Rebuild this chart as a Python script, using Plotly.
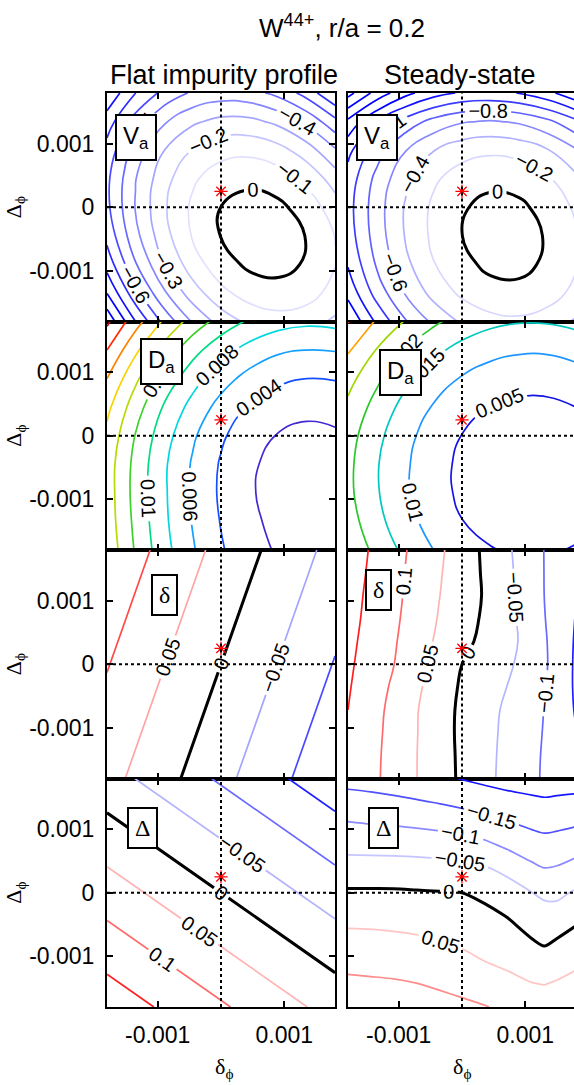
import numpy as np
import plotly.graph_objects as go

W, H = 574, 1085
FONT = "Liberation Sans"
SERIF = "Liberation Serif"

# ---------------- data ----------------
# grid nodes, in units of 1e-3
nodes9 = [-1.8, -1.35, -0.9, -0.45, 0.0, 0.45, 0.9, 1.35, 1.8]
nodes11 = [-1.8, -1.44, -1.08, -0.72, -0.36, 0.0, 0.36, 0.72, 1.08, 1.44, 1.8]
nodes_Dss_x = [-1.8, -1.44, -1.08, -0.72, -0.36, 0.0, 0.36, 0.72, 1.1, 1.3, 1.5, 1.8]
nodes3 = [-1.8, 0.0, 1.8]

# V_a, flat impurity profile (rows: Delta_phi from -1.8e-3 up; columns: delta_phi)
va_flat = [
    [-1.078, -0.800, -0.571, -0.391, -0.259, -0.176, -0.141, -0.155, -0.218],
    [-0.897, -0.632, -0.415, -0.247, -0.127, -0.056, -0.034, -0.060, -0.135],
    [-0.761, -0.508, -0.303, -0.147, -0.040, 0.019, 0.029, -0.009, -0.096],
    [-0.670, -0.429, -0.236, -0.092, 0.003, 0.050, 0.048, -0.003, -0.102],
    [-0.623, -0.394, -0.214, -0.082, 0.001, 0.036, 0.022, -0.041, -0.152],
    [-0.621, -0.404, -0.236, -0.116, -0.045, -0.023, -0.049, -0.124, -0.247],
    [-0.663, -0.458, -0.302, -0.195, -0.136, -0.126, -0.164, -0.251, -0.387],
    [-0.750, -0.557, -0.413, -0.318, -0.271, -0.273, -0.324, -0.423, -0.570],
    [-0.881, -0.701, -0.569, -0.486, -0.451, -0.465, -0.528, -0.639, -0.799],
]
# V_a, steady state
va_ss = [
    [-1.591, -1.166, -0.821, -0.556, -0.370, -0.264, -0.238, -0.292, -0.426],
    [-1.338, -0.923, -0.588, -0.333, -0.158, -0.062, -0.046, -0.110, -0.254],
    [-1.185, -0.780, -0.455, -0.210, -0.045, 0.040, 0.046, -0.028, -0.182],
    [-1.101, -0.706, -0.391, -0.156, -0.001, 0.074, 0.070, -0.015, -0.179],
    [-1.075, -0.690, -0.386, -0.161, -0.016, 0.049, 0.035, -0.060, -0.234],
    [-1.117, -0.743, -0.449, -0.234, -0.099, -0.044, -0.069, -0.173, -0.358],
    [-1.260, -0.896, -0.612, -0.407, -0.282, -0.237, -0.272, -0.387, -0.581],
    [-1.554, -1.200, -0.926, -0.732, -0.617, -0.582, -0.627, -0.752, -0.956],
    [-2.072, -1.728, -1.464, -1.280, -1.175, -1.150, -1.205, -1.340, -1.555],
]
# D_a, flat impurity profile (units of 1e-4)
da_flat_e4 = [
    [154, 118, 87, 62, 42, 27, 18, 14, 15],
    [151, 115, 84, 59, 39, 24, 15, 11, 12],
    [150, 113, 83, 57, 37, 22, 13, 9, 11],
    [150, 114, 83, 58, 38, 23, 14, 10, 11],
    [155, 119, 88, 63, 43, 28, 19, 15, 17],
    [165, 129, 98, 73, 53, 38, 29, 25, 27],
    [180, 144, 113, 88, 68, 53, 44, 40, 41],
    [200, 164, 133, 107, 87, 73, 63, 60, 61],
    [224, 188, 157, 132, 112, 97, 88, 84, 86],
]
# D_a, steady state (units of 1e-4)
da_ss_e4 = [
    [243, 185, 138, 100, 71, 53, 43, 44, 54],
    [223, 165, 118, 80, 51, 33, 23, 24, 34],
    [212, 155, 107, 69, 41, 22, 13, 14, 24],
    [212, 154, 107, 69, 40, 21, 12, 13, 23],
    [220, 163, 115, 77, 49, 30, 21, 22, 32],
    [239, 182, 134, 96, 68, 49, 40, 40, 50],
    [267, 210, 162, 124, 96, 77, 68, 68, 79],
    [305, 248, 200, 162, 134, 115, 106, 106, 116],
    [352, 295, 247, 209, 181, 162, 153, 154, 164],
]
# delta, flat impurity profile (3x3 corners/centre)
delta_flat = [
    [0.0664, -0.0362, -0.1388],
    [0.1026, 0.0, -0.1026],
    [0.1388, 0.0362, -0.0664],
]
# delta, steady state (units of 1e-3)
delta_ss_e3 = [
    [142, 113, 82, 51, 21, -8, -37, -64, -89, -116, -143],
    [143, 114, 83, 51, 21, -9, -36, -63, -88, -115, -144],
    [146, 116, 85, 52, 20, -10, -35, -61, -85, -114, -148],
    [150, 119, 87, 53, 20, -9, -34, -58, -83, -112, -154],
    [154, 124, 93, 59, 25, -6, -29, -51, -78, -110, -157],
    [158, 129, 101, 66, 33, 0, -21, -42, -72, -109, -157],
    [162, 133, 105, 73, 41, 13, -12, -36, -67, -112, -155],
    [166, 137, 109, 78, 47, 20, -7, -36, -73, -114, -152],
    [169, 140, 112, 82, 51, 24, -4, -37, -77, -115, -149],
    [171, 144, 114, 85, 54, 25, -6, -40, -78, -115, -147],
    [174, 147, 117, 88, 58, 25, -8, -43, -80, -114, -146],
]
# Delta, flat impurity profile (3x3)
Delta_flat = [
    [0.1805, 0.1062, 0.0319],
    [0.0743, 0.0, -0.0743],
    [-0.0319, -0.1062, -0.1805],
]
# Delta, steady state (columns at nodes_Dss_x, rows at nodes11)
Delta_ss = [
    [0.125, 0.124, 0.122, 0.118, 0.114, 0.109, 0.102, 0.091, 0.080, 0.077, 0.084, 0.093],
    [0.109, 0.107, 0.105, 0.101, 0.095, 0.087, 0.076, 0.064, 0.052, 0.049, 0.055, 0.066],
    [0.088, 0.086, 0.083, 0.078, 0.071, 0.062, 0.050, 0.040, 0.026, 0.018, 0.027, 0.040],
    [0.062, 0.061, 0.058, 0.054, 0.047, 0.040, 0.031, 0.019, 0.000, -0.009, 0.000, 0.015],
    [0.035, 0.034, 0.032, 0.029, 0.025, 0.020, 0.012, -0.002, -0.024, -0.032, -0.030, -0.012],
    [0.006, 0.006, 0.006, 0.004, 0.002, 0.000, -0.011, -0.029, -0.049, -0.059, -0.061, -0.044],
    [-0.027, -0.027, -0.028, -0.029, -0.031, -0.033, -0.043, -0.060, -0.087, -0.097, -0.094, -0.080],
    [-0.062, -0.063, -0.064, -0.066, -0.069, -0.074, -0.086, -0.105, -0.124, -0.130, -0.127, -0.117],
    [-0.096, -0.100, -0.103, -0.107, -0.113, -0.121, -0.131, -0.145, -0.158, -0.163, -0.160, -0.154],
    [-0.132, -0.136, -0.141, -0.147, -0.154, -0.163, -0.174, -0.185, -0.192, -0.195, -0.193, -0.190],
    [-0.166, -0.170, -0.175, -0.182, -0.192, -0.202, -0.211, -0.217, -0.221, -0.223, -0.221, -0.220],
]
star_x, star_y = 0.0, 0.00025
x_tick_vals = [-0.001, 0.001]
x_tick_text = ["-0.001", "0.001"]
y_tick_vals = [-0.001, 0, 0.001]
y_tick_text = ["-0.001", "0", "0.001"]
col_titles = ["Flat impurity profile", "Steady-state"]
panel_names = ["V<sub>a</sub>", "V<sub>a</sub>", "D<sub>a</sub>", "D<sub>a</sub>", "δ", "δ", "Δ", "Δ"]

# ---------------- figure ----------------
def axis_units(n):
    return [v * 1e-3 for v in n]

x9, x11, x3, xD = axis_units(nodes9), axis_units(nodes11), axis_units(nodes3), axis_units(nodes_Dss_x)

rows_px = [(93, 321.5), (321.5, 550), (550, 778.5), (778.5, 1007)]
cols_px = [(107, 335), (348, 574)]

def blue_red(level, zlim):
    t = min(abs(level) / zlim, 1.0)
    a = int(round(255 * (1 - t)))
    return f"rgb({a},{a},255)" if level < 0 else f"rgb(255,{a},{a})"

def scale_from(colors):
    n = len(colors)
    if n == 1:
        return [[0, colors[0]], [1, colors[0]]]
    return [[i / (n - 1), c] for i, c in enumerate(colors)]

def levels(start, end, size):
    n = int(round((end - start) / size)) + 1
    return [round(start + i * size, 6) for i in range(n)]

fig = go.Figure()

def add_set(k, x, y, z, start, end, size, colors, width, fmt, smooth):
    sfx = "" if k == 1 else str(k)
    fig.add_trace(go.Contour(
        x=x, y=y, z=z, xaxis="x" + sfx, yaxis="y" + sfx,
        autocontour=False,
        contours=dict(coloring="lines", start=start, end=end, size=size, showlabels=True,
                      labelformat=fmt,
                      labelfont=dict(size=20, color="black", family=FONT)),
        line=dict(width=width, smoothing=smooth),
        colorscale=scale_from(colors), showscale=False, hoverinfo="skip"))

def add_each(k, x, y, z, lv, colors, fmt, smooth=1.3):
    # one trace per level, so each level gets its own label position
    for l, c in zip(lv, colors):
        add_set(k, x, y, z, l, l, 1, [c], 1.7, fmt, smooth)

def add_bluered(k, x, y, z, neg, pos, zlim, fmt, smooth=1.3, split=False):
    for rng in (neg, pos):
        if rng:
            lv = levels(*rng)
            cols = [blue_red(l, zlim) for l in lv]
            if split:
                add_each(k, x, y, z, lv, cols, fmt, smooth)
            else:
                add_set(k, x, y, z, rng[0], rng[1], rng[2], cols, 1.7, fmt, smooth)
    add_set(k, x, y, z, 0, 0, 1, ["black"], 3, ".0f", smooth)

add_bluered(1, x9, x9, va_flat, (-1.0, -0.1, 0.1), None, 0.85, ".1~f")
add_bluered(2, x9, x9, va_ss, (-2.0, -0.2, 0.2), None, 1.3, ".1~f")
jet1 = ["rgb(70,40,210)", "rgb(20,80,255)", "rgb(20,160,255)", "rgb(0,215,225)", "rgb(0,220,130)",
        "rgb(60,210,40)", "rgb(180,220,0)", "rgb(250,210,0)", "rgb(255,130,0)", "rgb(255,40,0)",
        "rgb(200,0,0)"]
add_set(3, x9, x9, (np.array(da_flat_e4) * 1e-4).tolist(), 0.002, 0.022, 0.002, jet1, 1.7,
        ".3~f", 1.3)
jet2 = ["rgb(20,20,230)", "rgb(30,150,255)", "rgb(0,200,190)", "rgb(40,200,40)", "rgb(160,215,0)",
        "rgb(255,160,0)", "rgb(255,60,0)"]
add_set(4, x9, x9, (np.array(da_ss_e4) * 1e-4).tolist(), 0.005, 0.035, 0.005, jet2, 1.7,
        ".3~f", 1.3)
add_bluered(5, x3, x3, delta_flat, (-0.1, -0.05, 0.05), (0.05, 0.1, 0.05), 0.14, ".2~f")
add_bluered(6, x11, x11, (np.array(delta_ss_e3) * 1e-3).tolist(), (-0.15, -0.05, 0.05),
            (0.05, 0.15, 0.05), 0.17, ".2~f")
add_bluered(7, x3, x3, Delta_flat, (-0.15, -0.05, 0.05), (0.05, 0.15, 0.05), 0.17, ".2~f")
add_bluered(8, xD, x11, Delta_ss, (-0.2, -0.05, 0.05), (0.05, 0.1, 0.05), 0.22, ".2~f", 0.8,
            split=True)

layout = dict(width=W, height=H, margin=dict(l=0, r=0, t=0, b=0), showlegend=False,
              paper_bgcolor="white", plot_bgcolor="white", shapes=[], annotations=[])
for k in range(1, 9):
    r, c = (k - 1) // 2, (k - 1) % 2
    sfx = "" if k == 1 else str(k)
    x0, x1 = cols_px[c]
    y0, y1 = rows_px[r]
    xr = [-0.0018, -0.0018 + (x1 - x0) / 228 * 0.0036]
    layout["xaxis" + sfx] = dict(
        domain=[x0 / W, x1 / W], range=xr, anchor="y" + sfx, showgrid=False, zeroline=False,
        showline=True, linecolor="black", linewidth=2, mirror="ticks", ticks="inside",
        ticklen=6, tickwidth=1.5, tickcolor="black", tickvals=x_tick_vals,
        ticktext=x_tick_text, showticklabels=(r == 3), ticklabelstandoff=6,
        tickfont=dict(size=23, family=FONT, color="black"))
    layout["yaxis" + sfx] = dict(
        domain=[1 - y1 / H, 1 - y0 / H], range=[-0.0018, 0.0018], anchor="x" + sfx,
        showgrid=False, zeroline=False, showline=True, linecolor="black", linewidth=2,
        mirror="ticks" if c == 0 else False, ticks="inside", ticklen=6, tickwidth=1.5,
        tickcolor="black", tickvals=y_tick_vals, ticktext=y_tick_text,
        showticklabels=(c == 0), ticklabelstandoff=6,
        tickfont=dict(size=23, family=FONT, color="black"))
    xref, yref = "x" + sfx, "y" + sfx
    layout["shapes"].append(dict(type="line", xref=xref, yref=yref, x0=0, x1=0, y0=-0.0018, y1=0.0018,
                                 line=dict(color="black", width=2, dash="dot")))
    layout["shapes"].append(dict(type="line", xref=xref, yref=yref, x0=-0.0018, x1=0.0018, y0=0, y1=0,
                                 line=dict(color="black", width=2, dash="dot")))
    fig.add_trace(go.Scatter(x=[star_x], y=[star_y], xaxis=xref, yaxis=yref, mode="markers",
                             marker=dict(symbol="asterisk-open", size=11, color="red",
                                         line=dict(color="red", width=1.3)), hoverinfo="skip"))

def ann(text, xpx, ypx, size, family=FONT, **kw):
    d = dict(text=text, x=xpx / W, y=1 - ypx / H, xref="paper", yref="paper", showarrow=False,
             font=dict(size=size, family=family, color="black"), xanchor="center", yanchor="middle")
    d.update(kw)
    layout["annotations"].append(d)

ann("W<sup>44+</sup>, r/a = 0.2", 342, 26, 26)
ann(col_titles[0], 224, 75, 27)
ann(col_titles[1], 460, 75, 27)
for r in range(4):
    yc = (rows_px[r][0] + rows_px[r][1]) / 2
    ann("Δ<sub>ϕ</sub>", 15, yc, 22, SERIF, textangle=-90)
ann("δ<sub>ϕ</sub>", 224, 1068, 22, SERIF)
ann("δ<sub>ϕ</sub>", 462, 1068, 22, SERIF)
box_pos = [(136, 138), (377, 137), (161, 362), (400, 372), (164, 595), (378, 590), (142, 828), (383, 828)]
for i, (bx, by) in enumerate(box_pos):
    fam = SERIF if i >= 4 else FONT
    ann(panel_names[i], bx, by, 24, fam, bordercolor="black", borderwidth=2, borderpad=6,
        bgcolor="white")

fig.update_layout(**layout)
fig.write_html("out.html", config={"displayModeBar": False},
               post_script="document.body.style.margin='0px';")
